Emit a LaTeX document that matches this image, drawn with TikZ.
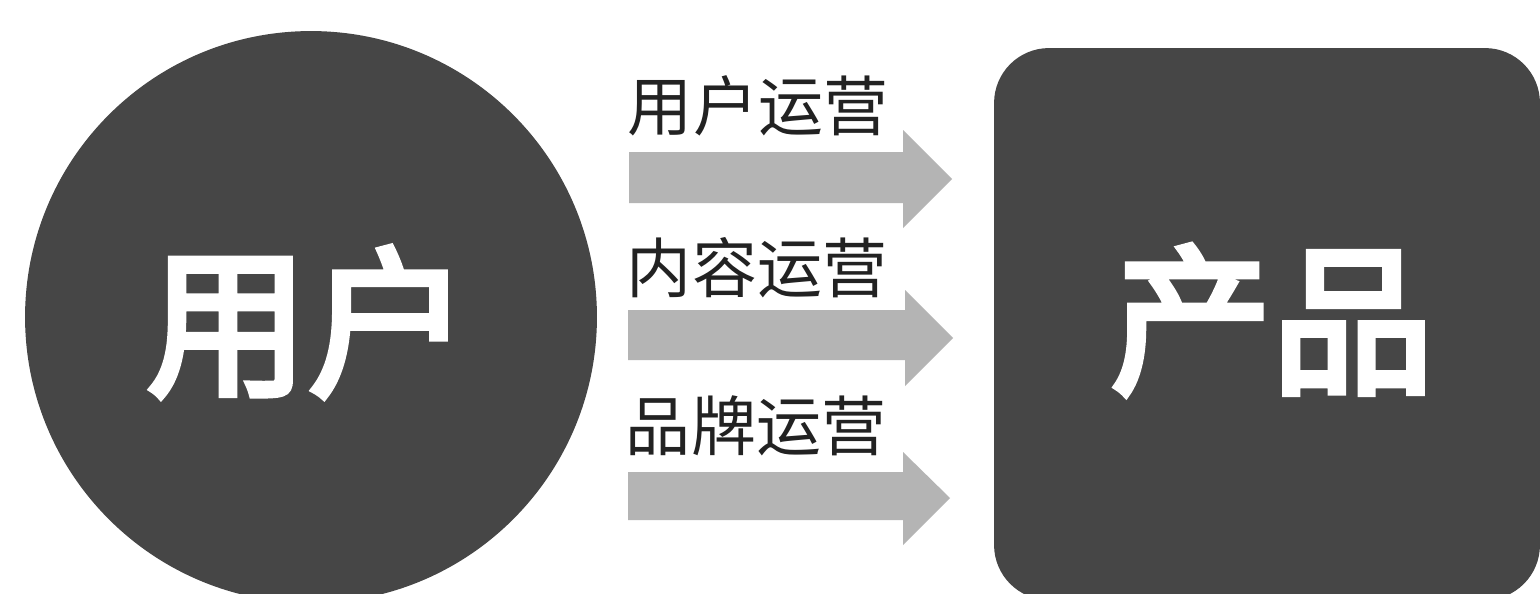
\documentclass[tikz,border=0pt]{standalone}
\usepackage{fontspec}
\newfontfamily\cjk{Noto Sans CJK SC}
\newfontfamily\cjkb[FakeBold=4]{Noto Sans CJK SC}
\definecolor{dark}{HTML}{464646}
\definecolor{arrowgray}{HTML}{B4B4B4}
\definecolor{labeltext}{HTML}{222222}
\tikzset{
  bigshape/.style={fill=dark, draw=none, inner sep=0pt},
  bigtext/.style={font=\cjkb\fontsize{92}{92}\selectfont, text=white, inner sep=0pt},
  oplabel/.style={font=\cjk\fontsize{37}{37}\selectfont, text=labeltext, inner sep=0pt},
  blockarrow/.style={fill=arrowgray, draw=none}
}
\begin{document}
\begin{tikzpicture}[x=0.02cm,y=-0.02cm]
\useasboundingbox (0,0) rectangle (1540,593);
\clip (0,0) rectangle (1540,593);
\fill[white] (0,0) rectangle (1540,593);
% user circle
\node[bigshape, circle, minimum size=11.44cm] (user) at (311,317) {};
\node[bigtext] (usertext) at (308,322) {用户};
% product rounded square
\node[bigshape, rectangle, rounded corners=1.1cm, minimum width=10.92cm, minimum height=11.04cm] (prod) at (1267,324) {};
\node[bigtext] (prodtext) at (1272,320) {产品};
% labels
\node[oplabel] (l1) at (758,106) {用户运营};
\node[oplabel] (l2) at (757,268) {内容运营};
\node[oplabel] (l3) at (756,426) {品牌运营};
% block arrows
\fill[blockarrow] (629,152) -- (903,152) -- (903,130) -- (952,179) -- (903,228) -- (903,203) -- (629,203) -- cycle;
\fill[blockarrow] (628,310) -- (905,310) -- (905,290) -- (953,338) -- (905,386) -- (905,360) -- (628,360) -- cycle;
\fill[blockarrow] (628,472) -- (903,472) -- (903,452) -- (950,498) -- (903,545) -- (903,520) -- (628,520) -- cycle;
\end{tikzpicture}
\end{document}
